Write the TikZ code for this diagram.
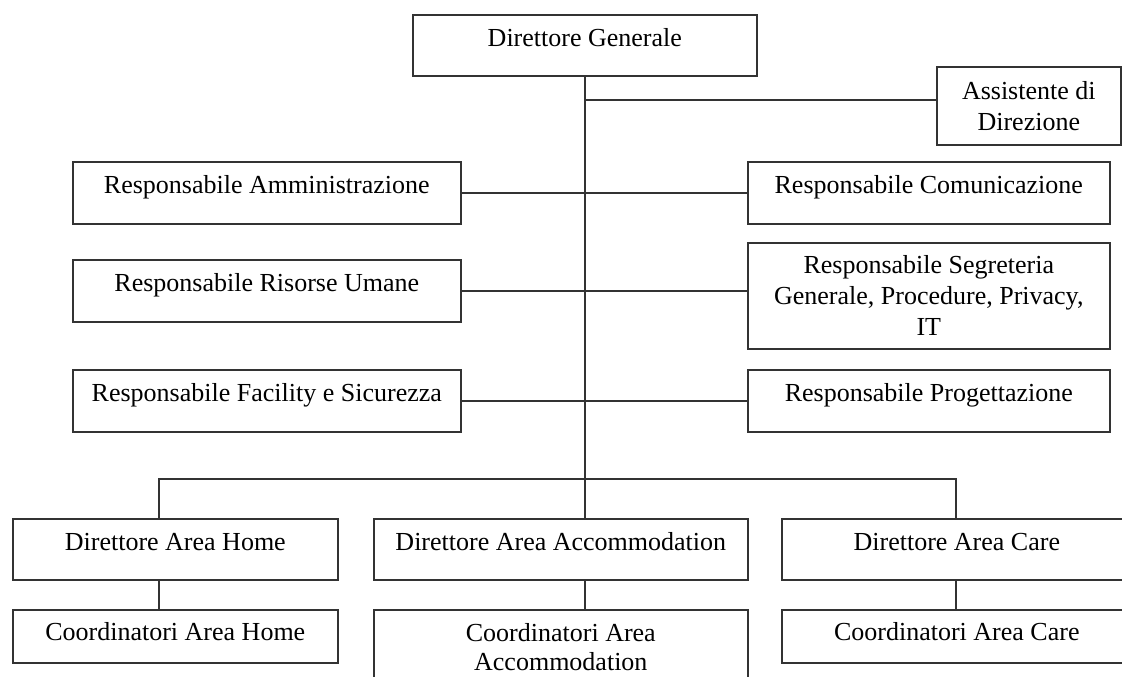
\documentclass[tikz,border=0pt]{standalone}
\usepackage{fontspec}
\setmainfont{Liberation Serif}

\begin{document}
\begin{tikzpicture}[x=0.5pt,y=-0.5pt,
  box/.style={draw=black!80,line width=0.8pt,inner xsep=0pt,inner ysep=0pt,anchor=north west,font=\fontsize{13}{15.5}\selectfont},
  one/.style={box,text height=16pt,text depth=15pt},
  many/.style={box,align=center},
  link/.style={draw=black!80,line width=0.8pt}]
\useasboundingbox (0,0) rectangle (1122,676);
\clip (0,0) rectangle (1122,676);
% top
\node[one,minimum width=172pt,text depth=14.5pt] (dg) at (412,14) {Direttore Generale};
\node[many,minimum width=92pt,minimum height=39pt] (ass) at (936,66) {Assistente di\\Direzione};
% responsabili
\node[one,minimum width=194pt] (amm) at (72,161) {Responsabile Amministrazione};
\node[one,minimum width=181pt] (com) at (747,161) {Responsabile Comunicazione};
\node[one,minimum width=194pt] (ris) at (72,259) {Responsabile Risorse Umane};
\node[many,minimum width=181pt,minimum height=53pt] (seg) at (747,242) {Responsabile Segreteria\\Generale, Procedure, Privacy,\\IT};
\node[one,minimum width=194pt] (fac) at (72,369) {Responsabile Facility e Sicurezza};
\node[one,minimum width=181pt] (prog) at (747,369) {Responsabile Progettazione};
% aree
\node[one,minimum width=162.5pt,text depth=14.5pt] (dhome) at (12,518) {Direttore Area Home};
\node[one,minimum width=187pt,text depth=14.5pt] (dacc) at (373,518) {Direttore Area Accommodation};
\node[one,minimum width=175pt,text depth=14.5pt] (dcare) at (781,518) {Direttore Area Care};
\node[one,minimum width=162.5pt,text height=15.5pt,text depth=11pt] (chome) at (12,609) {Coordinatori Area Home};
\node[many,minimum width=187pt,minimum height=37pt,font=\fontsize{13}{14.5}\selectfont] (cacc) at (373,609) {Coordinatori Area\\Accommodation};
\node[one,minimum width=175pt,text height=15.5pt,text depth=11pt] (ccare) at (781,609) {Coordinatori Area Care};
% lines
\coordinate (ja) at (584,100);
\coordinate (bl) at (159,479);
\coordinate (br) at (956,479);
\draw[link] (dg.south) -- (dg.south |- dacc.north);
\draw[link] (ja) -- (ja -| ass.west);
\draw[link] (amm.east) -- (com.west);
\draw[link] (ris.east) -- (ris.east -| seg.west);
\draw[link] (fac.east) -- (prog.west);
\draw[link] (bl |- dhome.north) -- (bl) -- (br) -- (br |- dcare.north);
\draw[link] (bl |- dhome.south) -- (bl |- chome.north);
\draw[link] (dg.south |- dacc.south) -- (dg.south |- cacc.north);
\draw[link] (br |- dcare.south) -- (br |- ccare.north);
\end{tikzpicture}
\end{document}
